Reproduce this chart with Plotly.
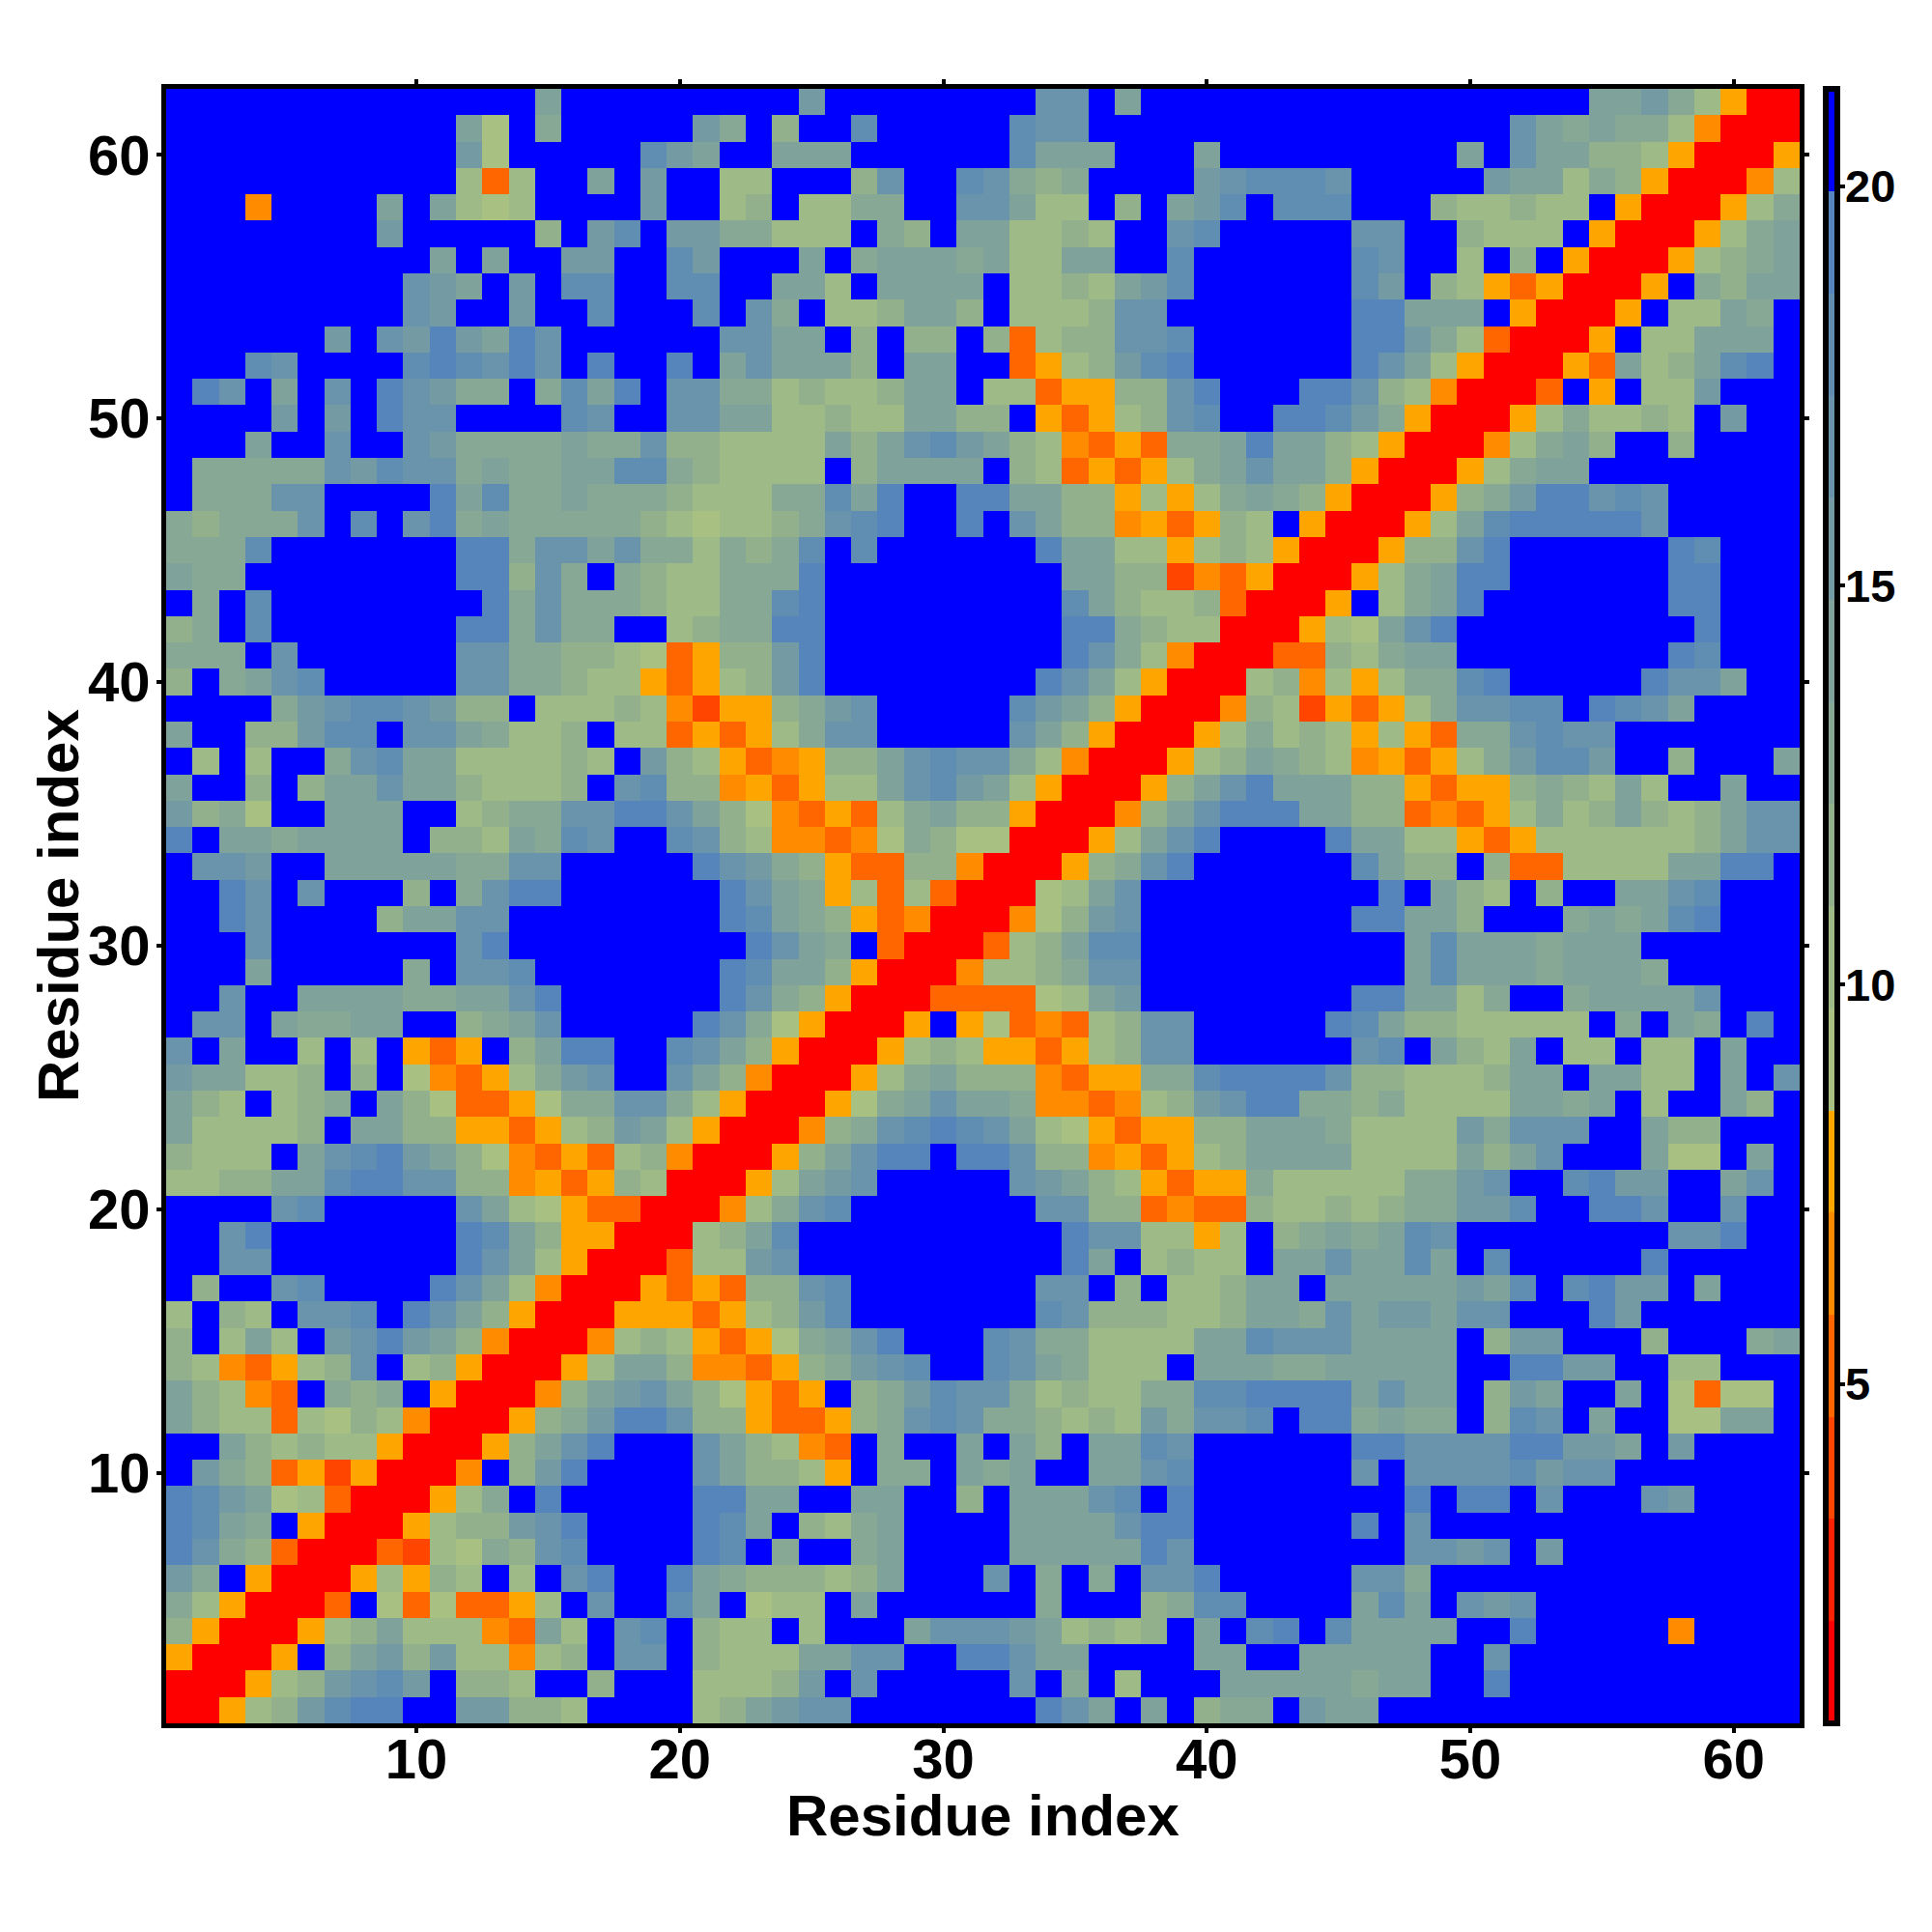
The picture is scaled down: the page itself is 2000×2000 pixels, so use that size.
import plotly.graph_objects as go

# Matrix, top row (residue 62) first. One code per cell; spaces only group columns.
rows = [
"BBBBBBBBBBBBBB5BBBBBB BBB6BBBBBBBB77B5BBBBB BBBBBBBBBBBB55642YRR",
"BBBBBBBBBBB51B4BBBBB6 4B3BB8BBBBB877BBBBBBB BBBBBBBBB7545442PRRR",
"BBBBBBBBBBB61BBBBB865 BB555BBBBBB8555BBB5BB BBBBBBB5B755332YRRRY",
"BBBBBBBBBBB2O2BB5B6BB 22BBB37BB87434BBBB678 887BBBBB655243YRRRP2",
"BBBPBBBB5B5212BBBB6BB 23B2244BB77522B3B568B 888BBB322322BYRRRY24",
"BBBBBBBB6BBBBB3B68B66 44222B43B552232BB78BB BBB77BB3222BYRRRY245",
"BBBBBBBBBB5B5BB66BB86 BBB5B4555452255BB8BBB BBB87BB2B3BYRRRY2345",
"BBBBBBBBB765B6B88BB88 BB552B5555B2232568BBB BBB86B32YOYRRRYB4355",
"BBBBBBBBB76BB6BB8BBB8 B74B223553B222377BBBB BBB99555BYRRRYB2254B",
"BBBBBB6B7696597BBBBBB 7755B3B33B3O233778BBB BBB99642ORRRYB22555B",
"BBB87BBBB898797B9BB9B 575553B55BBOY23689BBB BBB9752YRRRYO523589B",
"B97B5B7B97644B4859B77 442322355B22OYY3379BB B99732PRRROBYB226BBB",
"BBBB6B6B977BBBB87BB77 55223225533BYOY2378BB 99864YRRRY242232B6BB",
"BBB5BB7BB764444544733 2222535786532POYO4459 5532YRRRP2453BB3BBBB",
"B44444768774544558843 2222B35555B32OYOY2457 553YRRRY2455BBBBBBBB",
"B44477BBBB95844544432 2244859BB995533Y2Y245 43YRRRY34699787BBBBB",
"434447B8B794544444321 2234789BB9B7533PYOY32 BYRRRY258999997BBBBB",
"4448BBBBBBB9947757442 4348B8BBBBBB95522Y232 YRRRY3379BBBBBB98BBB",
"544BBBBBBBB99374B4322 4449BBBBBBBBB5533APOY RRRY24599BBBBBB99BBB",
"B4B8BBBBBBBB947444322 4489BBBBBBBBB853223OR RRYB2459BBBBBBB99BBB",
"34B8BBBBBBB994744BB23 4499BBBBBBBBB994322RR RY21579BBBBBBBBB9BBB",
"444B7BBBBBB77443321OY 3369BBBBBBBBB9742PRRR OO32455BBBBBBBB98BBB",
"3B4578BBBBB7744322YOY 2369BBBBBBBB9752YRRR2 3P2Y24489BBBBB9775BB",
"BBBB467887633B22232PA YY3467BBBBB8653YRRRP3 2AYOY247788B9875BBBB",
"5BB33688B7754223B22OY OY2477BBBBB753YRRRY24 232Y2YO447877BBBBBBB",
"B2B2BB47855222232B632 YOPY335787742PRRRY235 432PYOY246886BB3BBB5",
"5BB3B35575532223B7833 PYOY22578652YRRRY3579 55533YOYY343252BB5BB",
"6341BB555BB2344779975 31POYO24533YRRRP35799 95533OPOY24235323577",
"9B5545555B3325487BB87 32PPOP14311RRRY2579BB BB95522YOY2222223577",
"B776BB555554477BBBBB9 7643YOO33PRRRY3479BBB BBB8533B3OO22225599B",
"BB97B7BBB3B4799BBBBBB 9754Y2O2ORRR1257BBBBB BBBB9B532B3BB5578BBB",
"BB97BBBB35577BBBBBBBB 98543YOPRRRP1367BBBBB BBB99553BBB454589BBB",
"BBB7BBBBBBB79BBBBBBBB B9754BORRRO23588BBBBB BBBBB585554555BBBBBB",
"BBB5BBBBB4B778BBBBBBB 98553YRRRP223477BBBBB BBBBB5855545554BBBBB",
"BB7BB5555445579BBBBBB 9743YRRROOOO1256BBBBB BBB995524BB455557BBB",
"B77B54455BB3457BBBBB9 741YRRRYBY1OPO2377BBB BB9853322222B4B54B9B",
"7B5BB2B2BYOYB3599BB87 53YRRRY232YYOY2377BBB BBB78B5325B22B22B5BB",
"655223B3B1POY2467BB75 3PRRRY245333POYY44899 99733222355B5522B5B7",
"532B234B531OOY1447742 YRRRY1457554PPOP23679 9443422225545B2BB53B",
"522223B5533YYOY23652Y RRRP3478987521YOYY335 554222264777BB533BBB",
"3222B57896531POYO23PR RRY35799B99733PYOY235 55522225357BBB511B5B",
"2233558997733PYOY32RR RY2567BBBBB76532YOYY4 222224467BB8966BB57B",
"BBBB78BBBBB7521YOORRR P2478BBBBBBB7733OPOO3 2232344668BB997BB7BB",
"BB79BBBBBBB9853YYRRR2 358BBBBBBBBBB97722Y2B 3454587BBBBBBBB779BB",
"BB77BBBBBBB9752YRRRO2 267BBBBBBBBBB95B2322B 5575585B8BBBBB9BBBBB",
"B3BB78BBBB9752PRRRYOY O3378BBBBBBB77B3B2235 5B55555658B8966B5BBB",
"2B32B778B9753YRRRYYYO Y2368BBBBBBB873332235 547566577BBB96BBBBBB",
"3B252B679653PRRRP232Y OY14579BBB87442222558 7775555B366BBB3BBB45",
"32POY237B23YRRRY2553P POY34678BB8754222B555 4455555BB9966BB22BBB",
"532POB434BYRRRP356753 1YOYB3468774232244889 9995755B365BB5B1O11B",
"5322O2132PRRRY3469973 3YOOY3478744323264778 B994544B387B5BB1155B",
"BB532322YRRRY3579BBB7 532POB4BB5B53B5587BBB BBB99777799665B6BBBB",
"B643OYAYRRRPB369BBBB7 5332YB44B545BB5578BBB BBB7B77778677BBBBBBB",
"986512ORRRY24B9BBBBB9 955BB55BB3B55578B9BBB BBBBB9B99B7BBB76BBBB",
"9854BYRRRY233679BBBB9 85B3245BBBB5555799BBB BBB9B7BBBBBBBBBBBBBB",
"9743ORRROA214378BBBB9 8B4BB45BBBB5555597BBB BBBBB7767B6BBBBBBBBB",
"64BYRRRY2Y32B2B79BB95 4333235BBB7B4B4B779BB BBB774BBBBBBBBBBBBBB",
"42YRRROB1O1OOY2B7BB85 B122B5BBBBBB4BBB3488B BBB585B767BBBBBBBBBB",
"3YRRRY235222PO52B78B3 22B2BBB5777652323B5B8 9B85555BB9BBBBBPBBBB",
"YRRRYB3563622P23B77B3 2225577BB99755BBBB55B B55555BB7BBBBBBBBBBB",
"RRRY236786B332BB3BBB2 2236B7BBBBB7B4B2BBB55 555455BB9BBBBBBBBBBB",
"RRY236899BB66332BBBB2 35677BBBBBBB975B5B344 B655BBBBBBBBBBBBBBBB",
]

# Value that each code stands for (distance)
codes = ["R", "A", "O", "P", "Y", "1", "2", "3", "4", "5", "6", "7", "8", "9", "B"]
code_values = [1.4, 4.0, 5.2, 6.5, 7.8, 9.1, 10.3, 11.6, 12.9, 14.2, 15.5, 16.7, 18.0, 19.3, 20.6]

# Colour bar bands, bottom to top
band_colors = ["#ff0000", "#ff2200", "#ff4500", "#ff6600", "#ff8c00", "#ffa500",
               "#a8c082", "#9eba86", "#93b08c", "#87a894", "#7fa29a", "#749ba3",
               "#6a94ac", "#608eb3", "#5585bb", "#0000ff"]
z_min = 0.75
z_max = 21.22
residues = list(range(1, 63))
axis_ticks = [10, 20, 30, 40, 50, 60]
bar_ticks = [5, 10, 15, 20]
axis_title = "Residue index"

lookup = dict(zip(codes, code_values))
z = [[lookup[c] for c in row.replace(" ", "")] for row in reversed(rows)]

n = len(band_colors)
colorscale = []
for i, col in enumerate(band_colors):
    colorscale.append([i / n, col])
    colorscale.append([(i + 1) / n, col])

FONT = "Liberation Sans"
tickfont = dict(family=FONT, size=58, color="black", weight=700)
titlefont = dict(family=FONT, size=60, color="black", weight=700)
barfont = dict(family=FONT, size=47, color="black", weight=700)

L, T, W, H = 164, 84, 1691, 1692

fig = go.Figure(go.Heatmap(
    z=z, x=residues, y=residues, zmin=z_min, zmax=z_max, colorscale=colorscale,
    xgap=0, ygap=0, hoverongaps=False,
    colorbar=dict(
        x=(1882 - L) / W, xanchor="left", y=0, yanchor="bottom", lenmode="fraction", len=1,
        thickness=12, thicknessmode="pixels", xpad=0, ypad=0,
        outlinecolor="black", outlinewidth=6, borderwidth=0,
        tickmode="array", tickvals=bar_ticks, showticklabels=False,
        ticks="outside", ticklen=5, tickwidth=4, tickcolor="black",
    ),
))

axis = dict(
    range=[0.5, 62.5], tickmode="array", tickvals=axis_ticks, ticks="outside", ticklen=5,
    tickwidth=4, tickcolor="black", showline=True, linecolor="black", linewidth=5,
    mirror="ticks", showgrid=False, zeroline=False, tickfont=tickfont,
)
fig.update_xaxes(**axis, ticklabelstandoff=-23)
fig.update_yaxes(**axis, ticklabelstandoff=-5)

# Axis titles and colour-bar labels, placed where the reference has them
fig.add_annotation(text=axis_title, font=titlefont, showarrow=False, xref="paper", yref="paper",
                   x=0.5, y=1 - (1871 - T) / H, xanchor="center", yanchor="middle")
fig.add_annotation(text=axis_title, font=titlefont, showarrow=False, xref="paper", yref="paper",
                   x=(52 - L) / W, y=0.5, textangle=-90, xanchor="center", yanchor="middle")
for v in bar_ticks:
    fig.add_annotation(text=str(v), font=barfont, showarrow=False, xref="paper", yref="paper",
                       x=(1900 - L) / W, y=(v - z_min) / (z_max - z_min),
                       xanchor="left", yanchor="middle")

fig.update_layout(
    width=2000, height=2000, autosize=False, paper_bgcolor="white", plot_bgcolor="white",
    margin=dict(l=L, r=2000 - L - W, t=T, b=2000 - T - H, pad=0),
)
fig.write_html("out.html")
